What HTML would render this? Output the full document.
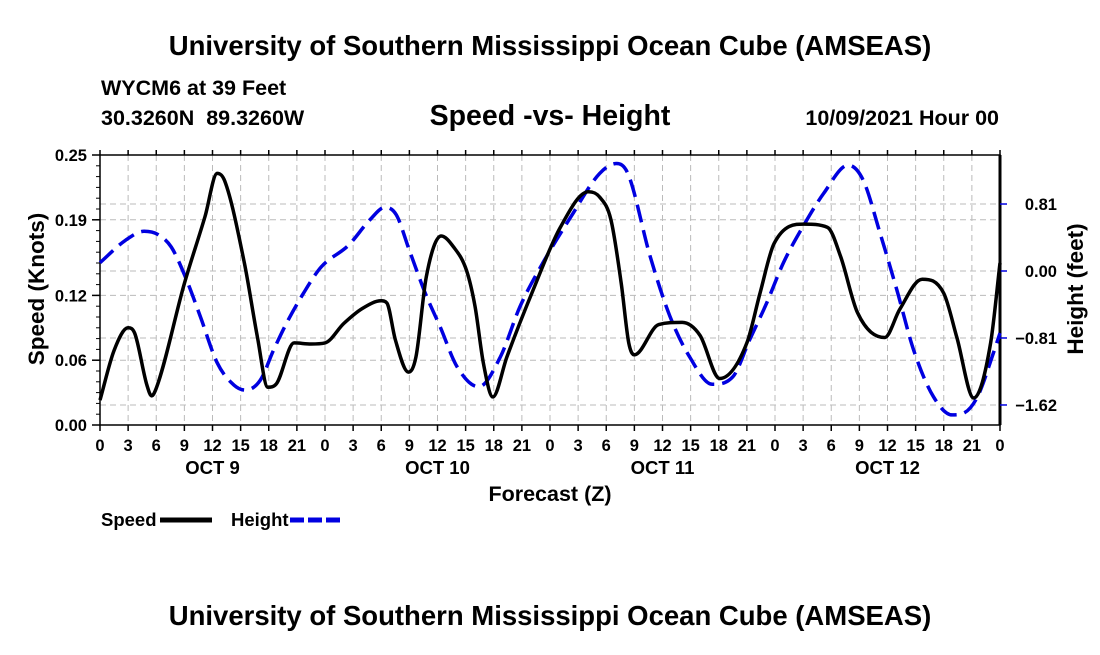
<!DOCTYPE html>
<html><head><meta charset="utf-8"><style>
body{margin:0;background:#fff;}
svg text{font-family:"Liberation Sans",Arial,sans-serif;font-weight:bold;fill:#000;}
</style></head><body>
<svg id="chart" width="1100" height="650" xmlns="http://www.w3.org/2000/svg">
<text x="550" y="55" font-size="27.5" text-anchor="middle">University of Southern Mississippi Ocean Cube (AMSEAS)</text>
<text x="101" y="95" font-size="21.5">WYCM6 at 39 Feet</text>
<text x="101" y="125" font-size="21.5" xml:space="preserve">30.3260N  89.3260W</text>
<text x="550" y="125" font-size="28.5" text-anchor="middle">Speed -vs- Height</text>
<text x="999" y="125" font-size="21.5" text-anchor="end">10/09/2021 Hour 00</text>
<text x="550" y="625" font-size="27.5" text-anchor="middle">University of Southern Mississippi Ocean Cube (AMSEAS)</text>
<g id="grid"></g><g id="axes"></g><g id="series"></g>
<text transform="translate(44,289) rotate(-90)" font-size="22.5" text-anchor="middle">Speed (Knots)</text>
<text transform="translate(1083,289) rotate(-90)" font-size="22.5" text-anchor="middle">Height (feet)</text>
<text x="550" y="501" font-size="21.5" text-anchor="middle">Forecast (Z)</text>
<g>
<text x="101" y="526" font-size="18.5">Speed</text>
<line x1="160" y1="520" x2="212" y2="520" stroke="#000" stroke-width="5"/>
<text x="231" y="526" font-size="18.5">Height</text>
<line x1="290" y1="520" x2="342" y2="520" stroke="#0000e0" stroke-width="5" stroke-dasharray="14,4"/>
</g>
</svg>
<script>
const xTickLabels=["0","3","6","9","12","15","18","21"];
const dayLabels=["OCT 9","OCT 10","OCT 11","OCT 12"];
const speedTicks=[0,0.06,0.12,0.19,0.25];
const heightTicks=[0.81,0,-0.81,-1.62];
const speedHours=[0,1.5,3,3.7,5,5.5,6,9,11.2,12.5,13.3,15.4,16.8,17.9,18.8,20.7,22.5,24,26,28,30,30.6,31.5,32.9,33.7,34.8,36.4,37.7,39.1,40,40.9,41.9,43.4,46.2,49.1,52.1,53.3,54.5,55.6,56.4,57,59.6,62.1,64,66.1,69,70.4,71.9,75.1,77.6,79,80.8,83.7,85.3,87.7,90,91.4,93.2,95,96];
const speedVals=[0.023,0.069,0.09,0.085,0.037,0.027,0.034,0.131,0.193,0.233,0.226,0.15,0.081,0.035,0.038,0.076,0.075,0.076,0.094,0.108,0.115,0.113,0.079,0.049,0.063,0.137,0.175,0.165,0.143,0.11,0.057,0.026,0.063,0.125,0.183,0.216,0.211,0.19,0.131,0.076,0.065,0.093,0.095,0.083,0.043,0.076,0.122,0.168,0.186,0.183,0.156,0.104,0.081,0.107,0.135,0.122,0.081,0.025,0.076,0.15];
const heightHours=[0,2.7,4.7,6.2,7.6,9.1,10.7,12.5,14.3,15.5,17.1,18.5,19.9,21.7,23.6,26.5,28.8,30.4,31.6,33,34.7,36.3,38.1,40.4,42.7,44.8,47,50.2,53.3,55.1,56.3,58.7,60.8,62.9,65.3,67.5,69.3,71.1,72.9,75.1,77.2,79.8,81.4,83.2,85,86.8,88.9,90.9,92.1,93.6,95.3,96];
const heightVals=[0.1,0.37,0.48,0.44,0.29,-0.07,-0.55,-1.11,-1.38,-1.44,-1.32,-0.96,-0.63,-0.27,0.05,0.31,0.62,0.77,0.68,0.25,-0.27,-0.68,-1.16,-1.4,-1.04,-0.43,0.05,0.65,1.18,1.3,1.18,0.17,-0.55,-1.04,-1.37,-1.28,-0.83,-0.39,0.1,0.56,0.94,1.28,1.1,0.46,-0.23,-0.96,-1.52,-1.74,-1.72,-1.52,-0.99,-0.75];
const L=100,R=1000,T=155,B=425;
const xs=h=>L+h*(R-L)/96;
const ys=v=>B-v*(B-T)/0.25;
const yh=v=>271-v*82.7;
const NS="http://www.w3.org/2000/svg";
function mk(tag,attrs,parent){const e=document.createElementNS(NS,tag);for(const k in attrs)e.setAttribute(k,attrs[k]);parent.appendChild(e);return e;}
const grid=document.getElementById('grid'),axes=document.getElementById('axes'),series=document.getElementById('series');
for(let h=3;h<96;h+=3){const g=mk('line',{x1:xs(h),x2:xs(h),y1:T,y2:B,stroke:'#bbb','stroke-dasharray':'6,4'},grid);

}
speedTicks.slice(1,4).forEach(v=>{const g=mk('line',{x1:L,x2:R,y1:ys(v),y2:ys(v),stroke:'#bbb','stroke-dasharray':'6,4'},grid);

});
heightTicks.forEach(v=>{const g=mk('line',{x1:L,x2:R,y1:yh(v),y2:yh(v),stroke:'#bbb','stroke-dasharray':'6,4'},grid);

});
const fr=mk('rect',{x:L,y:T,width:R-L,height:B-T,fill:'none',stroke:'#000','stroke-width':1.5},axes);


mk('line',{x1:R,x2:R,y1:T,y2:B,stroke:'#000','stroke-width':3},axes);
for(let h=0;h<=96;h+=3){
 mk('line',{x1:xs(h),x2:xs(h),y1:B,y2:B+6,stroke:'#000','stroke-width':1.5},axes);
 mk('line',{x1:xs(h),x2:xs(h),y1:T,y2:T-5,stroke:'#000','stroke-width':1.5},axes);
 const t=mk('text',{x:xs(h),y:B+26,'font-size':16.5,'text-anchor':'middle'},axes);
 t.textContent=xTickLabels[(h/3)%8];
 
 
}
dayLabels.forEach((d,i)=>{const t=mk('text',{x:xs(i*24+12),y:B+49,'font-size':18.5,'text-anchor':'middle'},axes);t.textContent=d;

});
for(let v=0;v<=0.25001;v+=0.01){mk('line',{x1:L-4,x2:L,y1:ys(v),y2:ys(v),stroke:'#000'},axes);}
speedTicks.forEach(v=>{mk('line',{x1:L-8,x2:L,y1:ys(v),y2:ys(v),stroke:'#000','stroke-width':1.5},axes);
const t=mk('text',{x:L-13,y:ys(v)+6,'font-size':16.5,'text-anchor':'end'},axes);t.textContent=v.toFixed(2);

});
heightTicks.forEach(v=>{mk('line',{x1:R,x2:R+7,y1:yh(v),y2:yh(v),stroke:'#0000e0','stroke-width':1.5},axes);
const t=mk('text',{x:R+57,y:yh(v)+6,'font-size':16.5,'text-anchor':'end'},axes);t.textContent=(v<0?'\u2212':'')+Math.abs(v).toFixed(2);

});
function monotone(pts){const n=pts.length,d=[],m=[];
for(let i=0;i<n-1;i++)d.push((pts[i+1][1]-pts[i][1])/(pts[i+1][0]-pts[i][0]));
m[0]=d[0];m[n-1]=d[n-2];
for(let i=1;i<n-1;i++){m[i]=(d[i-1]*d[i]<=0)?0:(d[i-1]+d[i])/2;}
for(let i=0;i<n-1;i++){if(d[i]===0){m[i]=0;m[i+1]=0;continue;}const a=m[i]/d[i],b=m[i+1]/d[i],s=a*a+b*b;if(s>9){const t=3/Math.sqrt(s);m[i]=t*a*d[i];m[i+1]=t*b*d[i];}}
let p='M'+pts[0][0]+','+pts[0][1];
for(let i=0;i<n-1;i++){const h=(pts[i+1][0]-pts[i][0])/3;
p+=' C'+(pts[i][0]+h)+','+(pts[i][1]+m[i]*h)+' '+(pts[i+1][0]-h)+','+(pts[i+1][1]-m[i+1]*h)+' '+pts[i+1][0]+','+pts[i+1][1];}
return p;}
const hp=mk('path',{d:monotone(heightHours.map((h,i)=>[xs(h),yh(heightVals[i])])),fill:'none',stroke:'#0000e0','stroke-width':3.5,'stroke-dasharray':'18,8'},series);


const sp=mk('path',{d:monotone(speedHours.map((h,i)=>[xs(h),ys(speedVals[i])])),fill:'none',stroke:'#000','stroke-width':3.5},series);


</script>
</body></html>
